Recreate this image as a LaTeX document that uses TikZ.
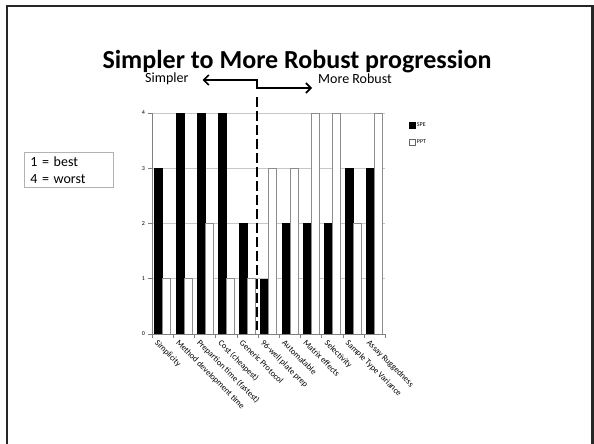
\documentclass[tikz,border=0pt]{standalone}
\usepackage{fontspec}
\setmainfont{Carlito}
\usetikzlibrary{arrows.meta, positioning}

\begin{document}
\begin{tikzpicture}[x=1pt, y=-1pt,
    grid/.style={draw=black!22, line width=0.6pt},
    axisline/.style={draw=black!50, line width=0.6pt},
    spebar/.style={fill=black, draw=black, line width=0.4pt},
    pptbar/.style={fill=white, draw=black!45, line width=0.6pt},
    ylab/.style={font=\fontsize{6}{7}\selectfont, anchor=east, inner sep=0pt},
    xlab/.style={font=\fontsize{8.5}{10}\selectfont, rotate=-45, anchor=north west, inner sep=0pt},
    side/.style={font=\fontsize{14}{17}\selectfont, inner sep=0pt},
    legkey/.style={minimum size=6pt, inner sep=0pt, line width=0.5pt},
    legtext/.style={font=\fontsize{6}{7}\selectfont, inner sep=0pt},
    arr/.style={line width=1.6pt, -{Straight Barb[length=5pt, width=10pt]}},
    divider/.style={line width=1.8pt, dash pattern=on 10pt off 4pt}
]
    \useasboundingbox (0,0) rectangle (594,444);
    \clip (0,0) rectangle (594,444);
    % Slide frame
    \draw[line width=2.3pt, black!85] (7,6) rectangle (592.5,470);
    % Title
    \node[font=\fontsize{26}{30}\bfseries\selectfont, anchor=base, inner sep=0pt] (title) at (297,69)
        {Simpler to More Robust progression};
    % Direction labels
    \node[side, anchor=base west] (simpler) at (145,82) {Simpler};
    \node[side, anchor=base west] (robust) at (318,84) {More Robust};
    \coordinate (bendtop) at (257,80);
    \coordinate (bendbot) at (257,88);
    \draw[arr] (bendbot) -- (bendtop) -- ([xshift=14pt]simpler.east |- bendtop);
    \draw[arr] (bendtop) -- (bendbot) -- ([xshift=-6pt]robust.west |- bendbot);
    % Scale box
    \node[draw=black!30, line width=0.6pt, anchor=north west, align=left, text width=77pt,
        inner xsep=6pt, inner ysep=4pt, font=\fontsize{14}{17}\selectfont] (scale) at (24,152)
        {1 = best\\4 = worst};
    % Gridlines and axes
    \foreach \v in {1,...,4} {
        \draw[grid] (148,{334-55.25*\v}) -- (385,{334-55.25*\v});
    }
    \foreach \v in {0,...,4} {
        \draw[axisline] (148,{334-55.25*\v}) -- (152,{334-55.25*\v});
        \node[ylab] (ytick\v) at (145,{334-55.25*\v}) {\v};
    }
    % Bars
    \foreach \name/\spe/\ppt [count=\i] in {
        Simplicity/3/1,
        Method development time/4/1,
        {Prepartion time (fastest)}/4/2,
        {Cost (cheapest)}/4/1,
        Generic Protocol/2/1,
        96-well plate prep/1/3,
        Automatable/2/3,
        Matrix effects/2/4,
        Selectivity/2/4,
        Sample Type Variance/3/2,
        Assay Ruggedness/3/4} {
        \pgfmathsetmacro\xc{152+21.2*(\i-0.5)}
        \draw[spebar] ({\xc-8},334) rectangle (\xc,{334-55.25*\spe});
        \draw[pptbar] (\xc,334) rectangle ({\xc+8},{334-55.25*\ppt});
        \draw[axisline] ({152+21.2*\i},334) -- ({152+21.2*\i},338);
        \node[xlab] (cat\i) at ({\xc-4},339) {\name};
    }
    \draw[axisline] (152,113) -- (152,338);
    \draw[axisline] (152,334) -- (385,334);
    % Divider
    \coordinate (cuttop) at (257,97);
    \coordinate (cutbot) at (257,330);
    \draw[divider] (cuttop) -- (cutbot);
    % Legend
    \node[legkey, fill=black, draw=black] (spekey) at (412,125) {};
    \node[legtext, right=1.5pt of spekey] (spetext) {SPE};
    \node[legkey, fill=white, draw=black!60] (pptkey) at (412,142) {};
    \node[legtext, right=1.5pt of pptkey] (ppttext) {PPT};
\end{tikzpicture}
\end{document}
